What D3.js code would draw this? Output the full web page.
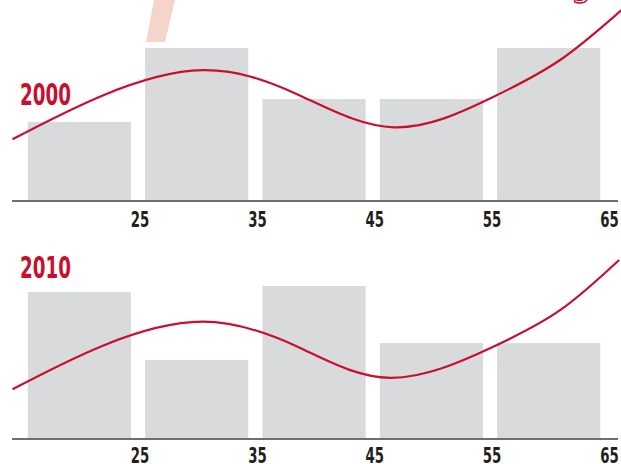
<!DOCTYPE html>
<html>
<head>
<meta charset="utf-8">
<script src="https://cdn.jsdelivr.net/npm/d3@7"></script>
<style>
  html, body { margin: 0; padding: 0; background: #fff; }
  svg { display: block; }
</style>
</head>
<body>
<svg id="chart" width="621" height="464"></svg>
<script>
// ---- data ----
const ageBins = [15, 25, 35, 45, 55];          // bin starts (10-year bins)
const tickLabels = ["25", "35", "45", "55", "65"];
const tickValues = [25, 35, 45, 55, 65];
const years = ["2000", "2010"];
const bars2000 = [15.5, 30, 20, 20, 30];
const bars2010 = [28.8, 15.5, 30, 18.8, 18.8];
const curveAges2000 = [14.3, 22, 30.5, 38.5, 46.8, 55, 61, 66.2];
const curve2000 = [12.1, 20.7, 25.65, 21.0, 14.45, 20.1, 27.7, 37.45];
const curveAges2010 = [14.3, 22, 30.5, 38.5, 46.5, 55, 61, 66.0];
const curve2010 = [9.75, 18.3, 23.0, 18.2, 12.0, 17.8, 25.3, 35.1];

// ---- drawing ----
const svg = d3.select("#chart");
const RED = "#c8102e";
const BAR = "#d9dadc";
const FONT = "'Liberation Sans Narrow', 'Arial Narrow', 'DejaVu Sans Condensed', sans-serif";

// decorative fragments of a title above (cut off)
svg.append("polygon")
  .attr("points", "154,0 175,0 165,42 146,42")
  .attr("fill", "#f5d4ca");
svg.append("text")
  .attr("x", 581).attr("y", -4)
  .attr("text-anchor", "middle")
  .attr("font-family", FONT)
  .attr("font-size", 36)
  .attr("fill", "none")
  .attr("stroke", RED)
  .attr("stroke-width", 1.4)
  .text("g");

const x = d3.scaleLinear().domain([15, 65]).range([20.7, 607.4]);
const binW = 10;
const pad = 7.1;

const panels = [
  { year: years[0], bars: bars2000, cAges: curveAges2000, curve: curve2000, base: 201, labelY: 105, tickY: 26 },
  { year: years[1], bars: bars2010, cAges: curveAges2010, curve: curve2010, base: 439, labelY: 278, tickY: 24 }
];

panels.forEach(p => {
  const y = d3.scaleLinear().domain([0, 40]).range([p.base, p.base - 204]);
  const g = svg.append("g");

  g.selectAll("rect.bar").data(p.bars).enter().append("rect")
    .attr("class", "bar")
    .attr("x", (d, i) => x(ageBins[i]) + pad)
    .attr("width", (d, i) => x(ageBins[i] + binW) - x(ageBins[i]) - 2 * pad)
    .attr("y", d => y(d))
    .attr("height", d => y(0) - y(d))
    .attr("fill", BAR);

  // axis
  const axis = d3.axisBottom(x)
    .tickValues(tickValues)
    .tickFormat((d, i) => tickLabels[i])
    .tickSize(0)
    .tickPadding(0);
  const ag = g.append("g").attr("transform", `translate(0,${p.base})`).call(axis);
  ag.select(".domain").remove();
  ag.append("line")
    .attr("x1", 12).attr("x2", 618)
    .attr("y1", 0).attr("y2", 0)
    .attr("stroke", "#6d6e71").attr("stroke-width", 2);
  ag.selectAll(".tick text")
    .attr("y", p.tickY).attr("dy", 0).attr("x", 1.5)
    .attr("font-family", FONT)
    .attr("font-weight", "bold")
    .attr("font-size", 21)
    .attr("textLength", 18.5)
    .attr("lengthAdjust", "spacingAndGlyphs")
    .attr("fill", "#231f20");

  // curve
  const pts = p.cAges.map((a, i) => [a, p.curve[i]]);
  const line = d3.line().x(d => x(d[0])).y(d => y(d[1])).curve(d3.curveNatural);
  g.append("path")
    .attr("d", line(pts))
    .attr("fill", "none")
    .attr("stroke", RED)
    .attr("stroke-width", 2.2);

  // year label
  g.append("text")
    .attr("x", 20).attr("y", p.labelY)
    .attr("font-family", FONT)
    .attr("font-weight", "bold")
    .attr("font-size", 30)
    .attr("textLength", 51)
    .attr("lengthAdjust", "spacingAndGlyphs")
    .attr("fill", RED)
    .text(p.year);
});
</script>
</body>
</html>
